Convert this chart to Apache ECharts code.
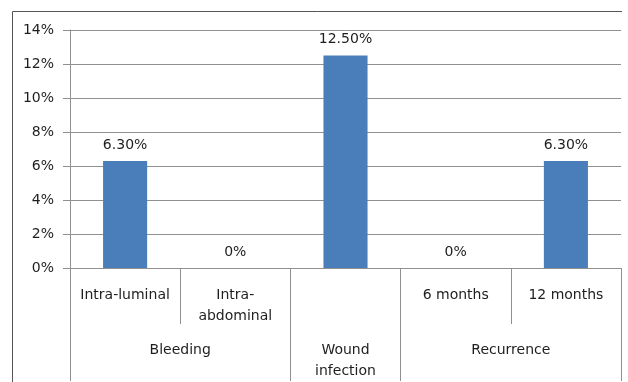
<!DOCTYPE html>
<html>
<head>
<meta charset="utf-8">
<script src="https://cdn.jsdelivr.net/npm/echarts@6/dist/echarts.min.js"></script>
<style>
html,body{margin:0;padding:0;background:#fff;overflow:hidden;}
#chart{width:628px;height:382px;}
</style>
</head>
<body>
<div id="chart"></div>
<script>
var categories = ['Intra-luminal', 'Intra-\nabdominal', '', '6 months', '12 months'];
var values = [6.3, 0, 12.5, 0, 6.3];
var valueLabels = ['6.30%', '0%', '12.50%', '0%', '6.30%'];
var groupNames = ['Bleeding', 'Wound\ninfection', 'Recurrence'];
var groupCenters = [1, 2.5, 4];
var groupBounds = [0, 2, 3, 5];
var yTicks = [0, 2, 4, 6, 8, 10, 12, 14];

var font = 'DejaVu Sans';
var gridColor = '#909090';
var chart = echarts.init(document.getElementById('chart'), null, {renderer: 'canvas'});
chart.setOption({
  animation: false,
  grid: {left: 70, right: 7, top: 30, bottom: 113, containLabel: false},
  graphic: [{
    type: 'polyline', silent: true, z: -1,
    shape: {points: [[12.5, 400], [12.5, 11.5], [622, 11.5]]},
    style: {stroke: '#555', lineWidth: 1, fill: null}
  }],
  xAxis: [{
    type: 'category',
    data: categories,
    axisLine: {show: true, lineStyle: {color: gridColor, width: 1}},
    axisTick: {show: true, interval: 0, length: 56, lineStyle: {color: gridColor}},
    axisLabel: {interval: 0, margin: 17, fontFamily: font, fontSize: 14, color: '#1e1e1e', lineHeight: 21}
  }, {
    type: 'value',
    min: 0, max: 5,
    position: 'bottom',
    axisLine: {show: false},
    splitLine: {show: false},
    axisTick: {show: true, customValues: groupBounds, length: 113, lineStyle: {color: gridColor}},
    axisLabel: {
      show: true, customValues: groupCenters, margin: 72,
      fontFamily: font, fontSize: 14, color: '#1e1e1e', lineHeight: 21,
      formatter: function (v) { var i = groupCenters.indexOf(v); return i >= 0 ? groupNames[i] : ''; }
    }
  }],
  yAxis: {
    type: 'value',
    min: yTicks[0], max: yTicks[yTicks.length - 1], interval: 2,
    axisLine: {show: true, lineStyle: {color: gridColor}},
    axisTick: {show: true, length: 7, lineStyle: {color: gridColor}},
    splitLine: {show: true, lineStyle: {color: gridColor, width: 1}},
    axisLabel: {formatter: '{value}%', margin: 16, fontFamily: font, fontSize: 14, color: '#1e1e1e'}
  },
  series: [{
    type: 'bar',
    xAxisIndex: 0,
    data: values,
    barWidth: '40%',
    itemStyle: {color: '#4a7ebb'},
    label: {
      show: true, position: 'top', distance: 9,
      fontFamily: font, fontSize: 14, color: '#1e1e1e',
      formatter: function (p) { return valueLabels[p.dataIndex]; }
    }
  }]
});
</script>
</body>
</html>
